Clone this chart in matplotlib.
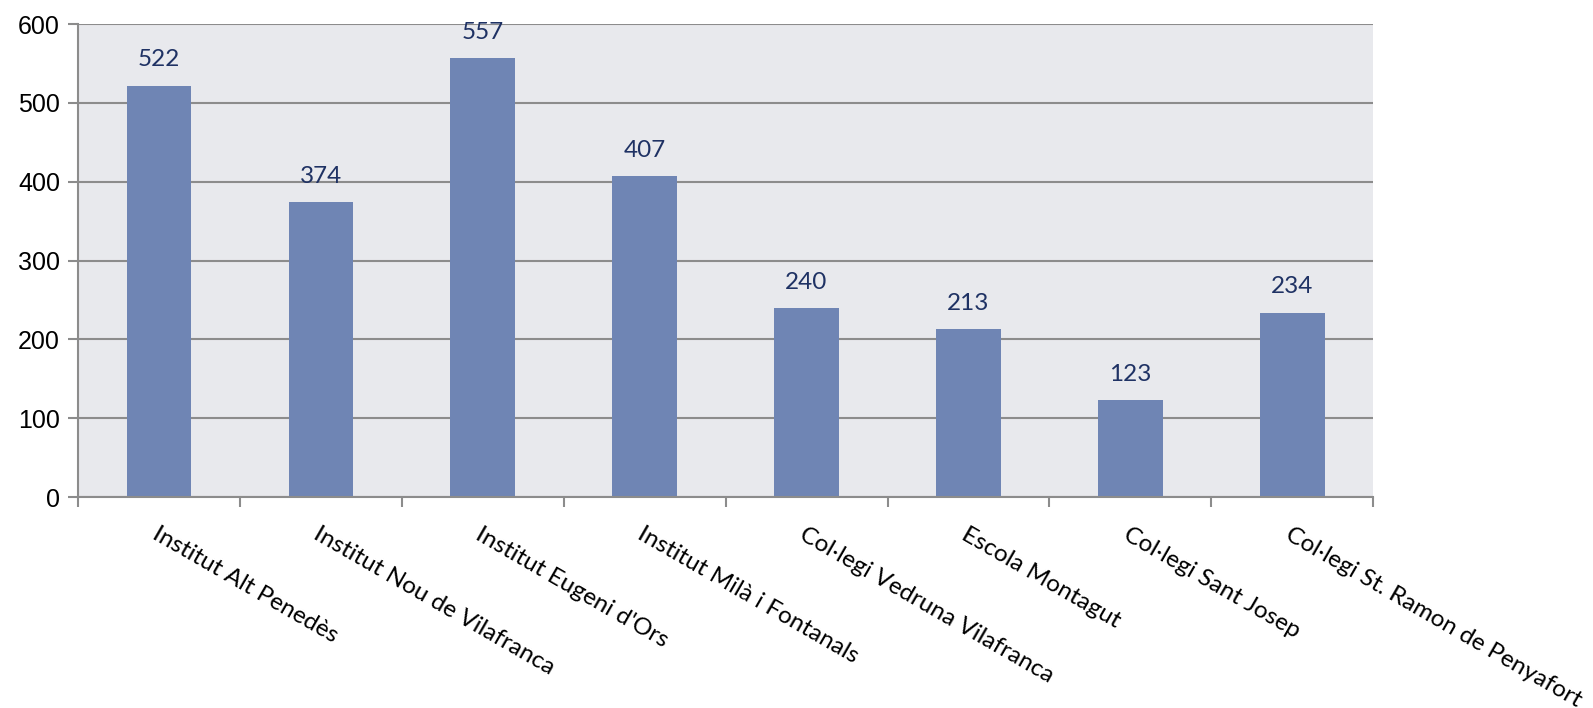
import matplotlib
matplotlib.use("Agg")
import matplotlib.pyplot as plt

# Dades: alumnes per centre
centres = [
    "Institut Alt Penedès",
    "Institut Nou de Vilafranca",
    "Institut Eugeni d'Ors",
    "Institut Milà i Fontanals",
    "Col·legi Vedruna Vilafranca",
    "Escola Montagut",
    "Col·legi Sant Josep",
    "Col·legi St. Ramon de Penyafort",
]
alumnes = [522, 374, 557, 407, 240, 213, 123, 234]
yticks = [0, 100, 200, 300, 400, 500, 600]

color_barra = "#6F85B4"
color_fons = "#E8E9ED"
color_eix = "#8C8C8C"
color_etiqueta = "#1F3264"

fig = plt.figure(figsize=(15.93, 7.08), dpi=100)
ax = fig.add_axes([0.049, 0.298, 0.813, 0.668])
ax.set_facecolor(color_fons)

x = list(range(len(centres)))
ax.bar(x, alumnes, width=0.4, color=color_barra, zorder=3)

# etiquetes de valor
for xi, v in zip(x, alumnes):
    ax.annotate(str(v), (xi, v), xytext=(0, 11), textcoords="offset points",
                ha="center", va="bottom", fontsize=17.5, color=color_etiqueta,
                family="Lato", zorder=4)

ax.set_xlim(-0.5, len(centres) - 0.5)
ax.set_ylim(0, 600)
ax.set_yticks(yticks)
ax.yaxis.grid(True, color=color_eix, linewidth=1.5, zorder=1)

# ticks a les fronteres de categoria, etiquetes al centre
ax.set_xticks([i - 0.5 for i in range(len(centres) + 1)])
ax.set_xticklabels([])
ax.set_xticks(x, minor=True)
ax.set_xticklabels(centres, minor=True, rotation=-30, ha="left", va="top",
                   rotation_mode="anchor", fontsize=17.5, family="Lato")
ax.tick_params(axis="x", which="minor", length=0, pad=19)
ax.tick_params(axis="x", which="major", length=7, width=1.5, color=color_eix)
ax.tick_params(axis="y", length=7, width=1.5, color=color_eix, labelsize=18, pad=6)
for lab in ax.get_yticklabels():
    lab.set_family("Liberation Sans")

for s in ["top", "right"]:
    ax.spines[s].set_visible(False)
for s in ["left", "bottom"]:
    ax.spines[s].set_color(color_eix)
    ax.spines[s].set_linewidth(1.5)
    ax.spines[s].set_zorder(5)

fig.savefig("out.png", dpi=100)
